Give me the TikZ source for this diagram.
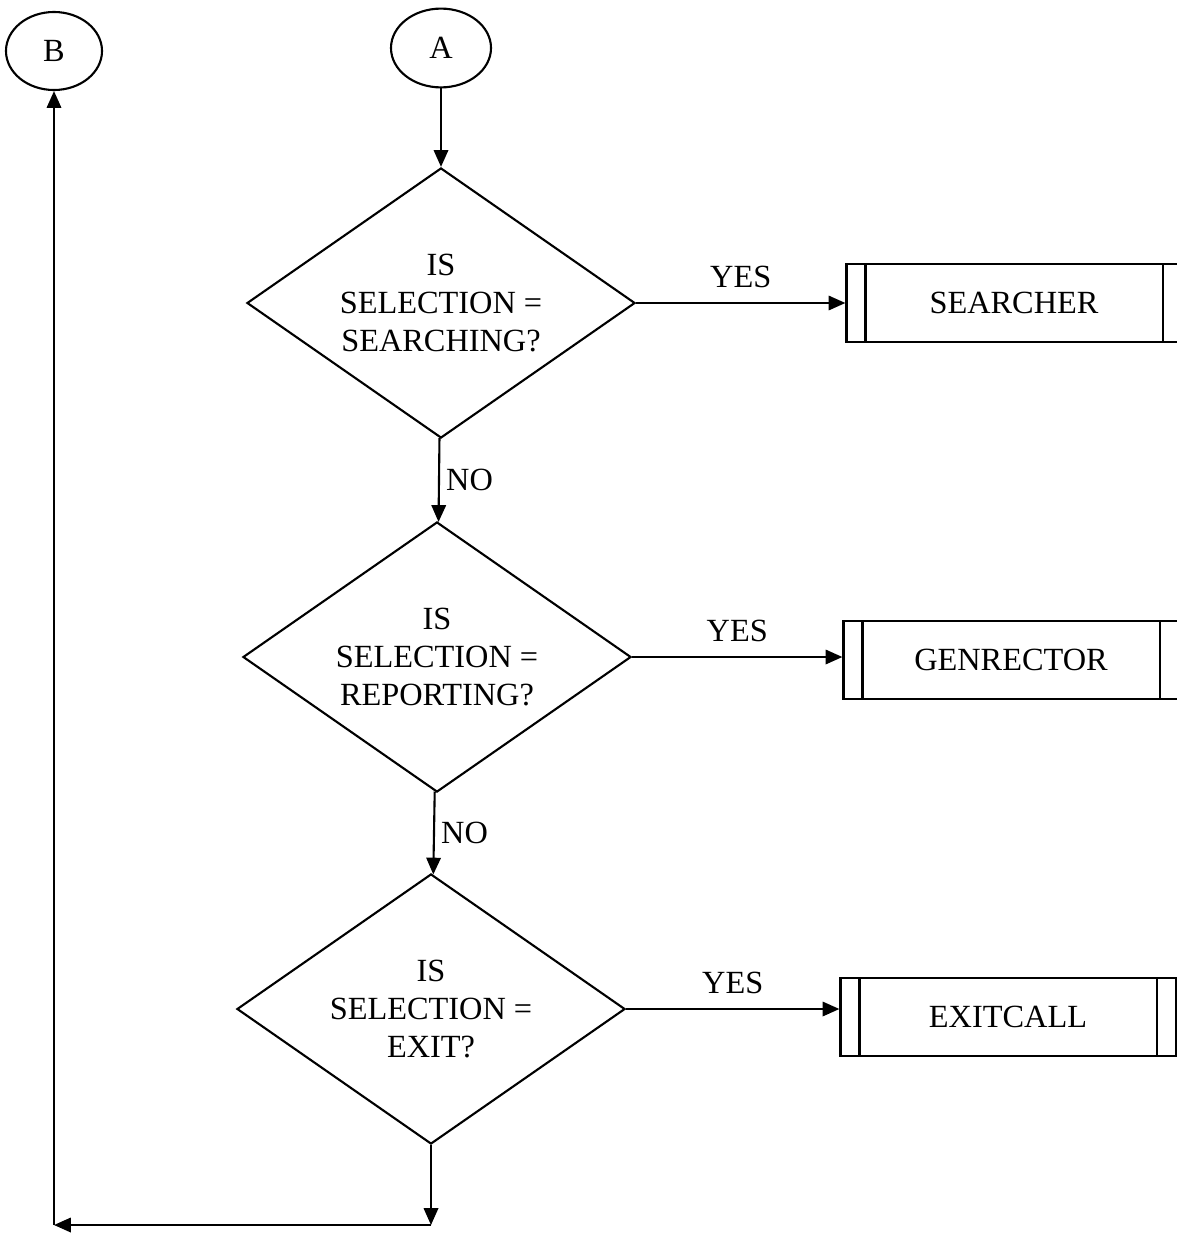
\documentclass[tikz,border=0pt]{standalone}
\usepackage{fontspec}
\setmainfont{Liberation Serif}
\usepackage{tikz}
\usetikzlibrary{shapes.geometric,arrows.meta}

\tikzset{
  decision/.style={diamond, draw, aspect=1.43, minimum width=9.7cm, minimum height=6.75cm, inner sep=0pt, align=center},
  process/.style={rectangle, draw, minimum width=8.375cm, minimum height=1.93cm, inner sep=0pt,
    path picture={
      \draw[line width=1.5pt] ([xshift=0.475cm]path picture bounding box.north west) -- ([xshift=0.475cm]path picture bounding box.south west);
      \draw[line width=1.5pt] ([xshift=-0.475cm]path picture bounding box.north east) -- ([xshift=-0.475cm]path picture bounding box.south east);}},
  connector/.style={ellipse, draw, inner sep=0pt},
  flow/.style={-{Triangle[length=0.42cm,width=0.36cm]}},
}

\begin{document}
\begin{tikzpicture}[x=0.025cm, y=-0.025cm, line width=1.5pt,
  every node/.style={font=\fontsize{23}{27}\selectfont}]
\useasboundingbox (0,0) rectangle (1176,1235);

% Points
\node[connector, minimum width=2.4cm, minimum height=1.95cm] (B) at (54,51) {B};
\node[connector, minimum width=2.5cm, minimum height=1.97cm] (A) at (441,48) {A};
\node[decision] (d1) at (441,303) {IS\\SELECTION =\\SEARCHING?};
\node[decision] (d2) at (437,657) {IS\\SELECTION =\\REPORTING?};
\node[decision] (d3) at (431,1009) {IS\\SELECTION =\\EXIT?};
\node[process] (searcher) at (1014,303) {SEARCHER};
\node[process] (genrector) at (1011,660) {GENRECTOR};
\node[process] (exitcall) at (1008,1017) {EXITCALL};
\coordinate (join) at (431,1225);
\coordinate (corner) at (B.south |- join);

%Lines
\draw[flow] (A) -- (d1);
\draw[flow] (d1.east) -- node[above=7pt] (yes1) {YES} (d1.east -| searcher.west);
\draw[flow] (d1) -- node[right=1pt] (no1) {NO} (d2);
\draw[flow] (d2.east) -- node[above=7pt] (yes2) {YES} (d2.east -| genrector.west);
\draw[flow] (d2) -- node[right=1pt] (no2) {NO} (d3);
\draw[flow] (d3.east) -- node[above=7pt] (yes3) {YES} (d3.east -| exitcall.west);
\draw[flow] (d3) -- (join);
\draw[flow] (join) -- (corner);
\draw[flow] (corner) -- (B);
\end{tikzpicture}
\end{document}
